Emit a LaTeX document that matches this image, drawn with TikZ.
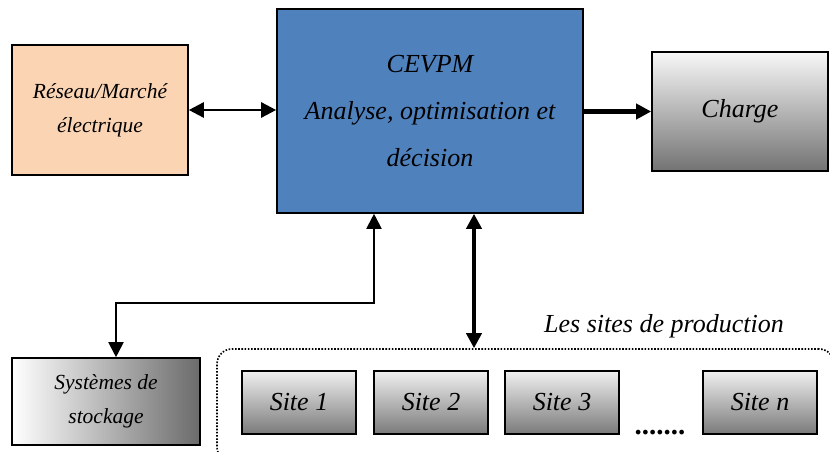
\documentclass[tikz,border=0pt]{standalone}
\usepackage{fontspec}
\setmainfont{Liberation Serif}
\usetikzlibrary{arrows.meta,positioning}

\definecolor{cevpmbleu}{HTML}{4F81BD}
\definecolor{reseaurose}{HTML}{FBD4B4}

\begin{document}
\begin{tikzpicture}
			[
				x = 1pt, y = -1pt,
				bloc/.style = {draw, line width = 1.6pt, inner sep = 0pt, align = center,
					font = \fontsize{26}{47}\selectfont\itshape},
				petit/.style = {font = \fontsize{21.5}{34}\selectfont\itshape},
				site/.style = {bloc, minimum width = 114pt, minimum height = 63pt,
					top color = black!6, bottom color = black!52},
				tete/.tip = {Triangle[length = 15pt, width = 15pt]},
				flecheg/.style = {line width = 2.5pt, tete-tete},
				fleched/.style = {line width = 4pt, tete-tete},
				flechel/.style = {line width = 2pt, tete-tete},
				flecheh/.style = {line width = 5pt, -tete}
			]
			\useasboundingbox (0,0) rectangle (830,452);

			\node[bloc, minimum width = 306pt, minimum height = 204pt, fill = cevpmbleu]
				(cevpm) at (430,111) {CEVPM\\Analyse, optimisation et\\décision};
			\node[bloc, petit, minimum width = 176pt, minimum height = 130pt, fill = reseaurose]
				(reseau) at (100,110) {Réseau/Marché\\électrique};
			\node[bloc, minimum width = 176pt, minimum height = 119pt,
				top color = black!3, bottom color = black!55]
				(charge) at (740,111.5) {Charge};
			\node[bloc, petit, minimum width = 188pt, minimum height = 87pt,
				left color = white, right color = black!58]
				(stockage) at (106,401.5) {Systèmes de\\stockage};

			\node[draw, line width = 1.6pt, dash pattern = on 1.6pt off 1.6pt, rounded corners = 15pt,
				minimum width = 617pt, minimum height = 113pt]
				(production) at (525.5,405.5) {};
			\node[anchor = base, font = \fontsize{26}{26}\selectfont\itshape]
				(titre) at (664,332) {Les sites de production};

			\node[site] (site1) at (299,402.5) {Site 1};
			\node[site] (site2) at (431,402.5) {Site 2};
			\node[site] (site3) at (562,402.5) {Site 3};
			\node[site] (siten) at (760,402.5) {Site n};
			\node[anchor = base, inner sep = 0pt, font = \fontsize{29}{29}\selectfont\bfseries]
				(points) at (660,434) {.......};

			\coordinate (coude) at (374,303);
			\coordinate (entree) at (474,0);

			\draw[flecheg] (reseau.east) -- (reseau.east -| cevpm.west);
			\draw[flecheh] (cevpm.east |- charge) -- (charge.west);
			\draw[flechel] ([xshift = 10pt]stockage.north) |- (coude) -- (coude |- cevpm.south);
			\draw[fleched] (cevpm.south -| entree) -- (production.north -| entree);
			\end{tikzpicture}
\end{document}
